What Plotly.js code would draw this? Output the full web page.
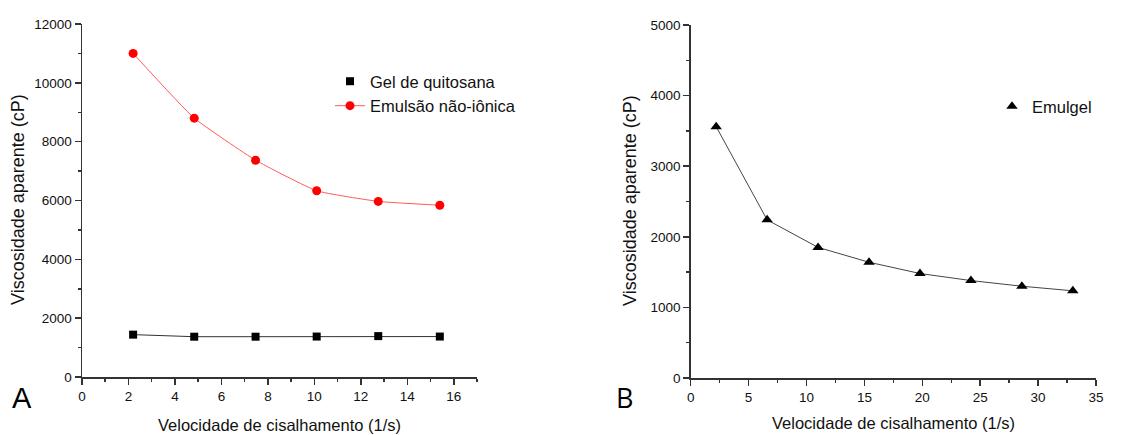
<!DOCTYPE html>
<html>
<head>
<meta charset="utf-8">
<script src="https://cdn.plot.ly/plotly-3.0.1.min.js"></script>
<style>html,body{margin:0;padding:0;background:#fff;}#chart{width:1145px;height:435px;}</style>
</head>
<body>
<div id="chart"></div>
<script>
// Panel A data
const taxaA = [2.2, 4.83, 7.47, 10.1, 12.75, 15.4];
const gelQuitosana = [1440, 1370, 1370, 1375, 1390, 1375];
const emulsaoNaoIonica = [11000, 8800, 7370, 6330, 5970, 5840];
// Panel B data
const taxaB = [2.2, 6.6, 11, 15.4, 19.8, 24.2, 28.6, 33];
const emulgel = [3560, 2240, 1850, 1640, 1480, 1380, 1300, 1235];

const FONT = 'Liberation Sans, Arial, sans-serif';

const traces = [
  {x: taxaA, y: gelQuitosana, xaxis: 'x', yaxis: 'y', mode: 'lines', showlegend: false,
   line: {color: '#333', width: 1}, hoverinfo: 'skip'},
  {x: taxaA, y: gelQuitosana, xaxis: 'x', yaxis: 'y', mode: 'markers', name: 'Gel de quitosana',
   marker: {symbol: 'square', size: 8, color: '#000'}, legend: 'legend'},
  {x: taxaA, y: emulsaoNaoIonica, xaxis: 'x', yaxis: 'y', mode: 'lines+markers', name: 'Emulsão não-iônica',
   line: {color: '#ff5a5a', width: 1, shape: 'spline', smoothing: 0.4},
   marker: {symbol: 'circle', size: 9, color: '#ff0000'}, legend: 'legend'},
  {x: taxaB, y: emulgel, xaxis: 'x2', yaxis: 'y2', mode: 'lines', showlegend: false,
   line: {color: '#444', width: 1}, hoverinfo: 'skip'},
  {x: taxaB, y: emulgel, xaxis: 'x2', yaxis: 'y2', mode: 'markers', name: 'Emulgel',
   marker: {symbol: 'triangle-up', size: 10, color: '#000'}, legend: 'legend2'}
];

function axisBase(extra) {
  return Object.assign({
    showline: true, linecolor: '#333', linewidth: 1.5, mirror: false,
    ticks: 'outside', ticklen: 6, tickwidth: 1.5, tickcolor: '#333',
    showgrid: false, zeroline: false, fixedrange: true, tickformat: 'd',
    tickfont: {family: FONT, size: 13.5, color: '#111'}
  }, extra);
}

const layout = {
  width: 1145, height: 435,
  margin: {l: 0, r: 0, t: 0, b: 0},
  paper_bgcolor: '#fff', plot_bgcolor: '#fff',
  font: {family: FONT, color: '#111'},
  xaxis: axisBase({domain: [82/1145, 477/1145], range: [0, 17], tick0: 0, dtick: 2, anchor: 'y',
    minor: {dtick: 1, ticks: 'outside', ticklen: 3, tickcolor: '#333', tickwidth: 1.5}}),
  yaxis: axisBase({domain: [1 - 377/435, 1 - 24/435], range: [0, 12000], tick0: 0, dtick: 2000, anchor: 'x',
    minor: {dtick: 1000, ticks: 'outside', ticklen: 3, tickcolor: '#333', tickwidth: 1.5}}),
  xaxis2: axisBase({domain: [690.7/1145, 1096/1145], range: [0, 35], tick0: 0, dtick: 5, anchor: 'y2',
    minor: {dtick: 2.5, ticks: 'outside', ticklen: 3, tickcolor: '#333', tickwidth: 1.5}}),
  yaxis2: axisBase({domain: [1 - 378/435, 1 - 25/435], range: [0, 5000], tick0: 0, dtick: 1000, anchor: 'x2',
    minor: {dtick: 500, ticks: 'outside', ticklen: 3, tickcolor: '#333', tickwidth: 1.5}}),
  legend: {x: 330/1145, y: 1 - 64/435, xanchor: 'left', yanchor: 'top', bgcolor: 'rgba(0,0,0,0)',
    font: {family: FONT, size: 16.5, color: '#111'}, tracegroupgap: 0},
  legend2: {x: 992/1145, y: 1 - 89/435, xanchor: 'left', yanchor: 'top', bgcolor: 'rgba(0,0,0,0)',
    font: {family: FONT, size: 16.5, color: '#111'}},
  showlegend: true,
  annotations: [
    {text: 'Velocidade de cisalhamento (1/s)', xref: 'paper', yref: 'paper', x: 279.5/1145, y: 1 - 425/435,
     xanchor: 'center', yanchor: 'middle', showarrow: false, font: {family: FONT, size: 16.5, color: '#111'}},
    {text: 'Velocidade de cisalhamento (1/s)', xref: 'paper', yref: 'paper', x: 893/1145, y: 1 - 423/435,
     xanchor: 'center', yanchor: 'middle', showarrow: false, font: {family: FONT, size: 16.5, color: '#111'}},
    {text: 'Viscosidade aparente (cP)', xref: 'paper', yref: 'paper', x: 18/1145, y: 1 - 200/435, textangle: -90,
     xanchor: 'center', yanchor: 'middle', showarrow: false, font: {family: FONT, size: 18, color: '#111'}},
    {text: 'Viscosidade aparente (cP)', xref: 'paper', yref: 'paper', x: 630/1145, y: 1 - 201/435, textangle: -90,
     xanchor: 'center', yanchor: 'middle', showarrow: false, font: {family: FONT, size: 18, color: '#111'}},
    {text: 'A', xref: 'paper', yref: 'paper', x: 22/1145, y: 1 - 398/435,
     xanchor: 'center', yanchor: 'middle', showarrow: false, font: {family: FONT, size: 29, color: '#000'}},
    {text: 'B', xref: 'paper', yref: 'paper', x: 624.5/1145, y: 1 - 397/435,
     xanchor: 'center', yanchor: 'middle', showarrow: false, font: {family: 'Open Sans, sans-serif', size: 27, color: '#000'}}
  ]
};

Plotly.newPlot('chart', traces, layout, {displayModeBar: false, staticPlot: true});
</script>
</body>
</html>
